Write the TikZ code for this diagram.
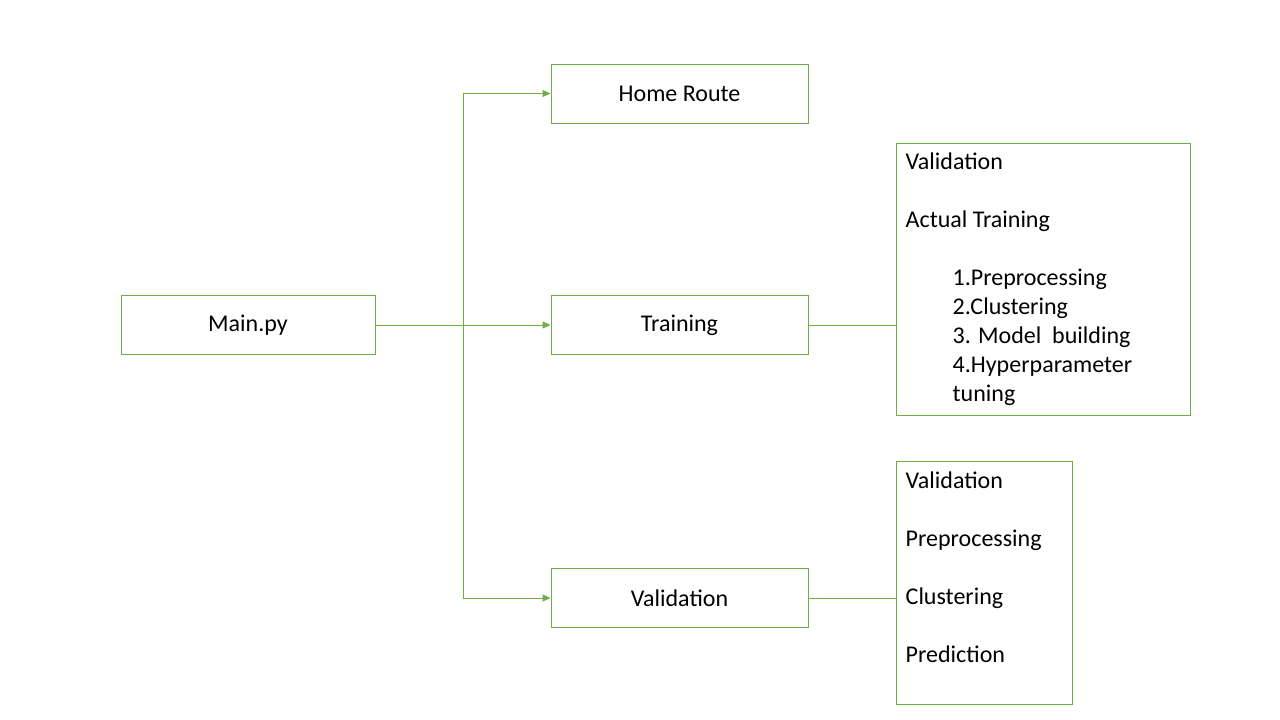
\documentclass[tikz,border=0pt]{standalone}
\usepackage{fontspec}
\setmainfont{Carlito}
\usepackage{xcolor}
\usetikzlibrary{positioning,arrows.meta}
\definecolor{leaf}{HTML}{70AD47}

\begin{document}
\begin{tikzpicture}[x=1pt,y=-1pt,
  every node/.style={font=\fontsize{24}{29}\selectfont},
  box/.style={draw=leaf,line width=1pt,minimum width=257pt,minimum height=59pt,inner sep=0pt},
  link/.style={draw=leaf,line width=1pt},
  arrow/.style={link,-{Triangle[length=8pt,width=7pt]}},
  steps/.style={align=left,anchor=north west,inner sep=0pt}]
\def\ind{\hspace*{47pt}}
  \useasboundingbox (0,0) rectangle (1280,720);
  % main flow
  \node[box,minimum width=254pt] (mainpy) at (248,325) {Main.py};
  \node[box] (homeroute) at (679.5,93.5) {Home Route};
  \node[box] (training) at (679.5,325) {Training};
  \node[box] (validation) at (679.5,598) {Validation};
  % detail boxes
  \node[box,minimum width=294pt,minimum height=272pt] (trainsteps) at (1043,279) {};
  \node[box,minimum width=176pt,minimum height=243pt] (validsteps) at (984,582.5) {};
  \node[steps] (traintext) at ([shift={(10,10)}]trainsteps.north west)
    {Validation\\[29pt]
     Actual Training\\[29pt]
     \ind1.Preprocessing\\
     \ind2.Clustering\\
     \ind3. Model\ \ building\\
     \ind4.Hyperparameter\\
     \ind tuning};
  \node[steps] (validtext) at ([shift={(10,11)}]validsteps.north west)
    {Validation\\[29pt]
     Preprocessing\\[29pt]
     Clustering\\[29pt]
     Prediction};
  % connectors
  \coordinate (branch) at (463,325);
  \draw[arrow] (mainpy) -- (training);
  \draw[arrow] (branch) |- (homeroute);
  \draw[arrow] (branch) |- (validation);
  \draw[link] (training.east) -- (trainsteps.west |- training.east);
  \draw[link] (validation.east) -- (validsteps.west |- validation.east);
\end{tikzpicture}
\end{document}
